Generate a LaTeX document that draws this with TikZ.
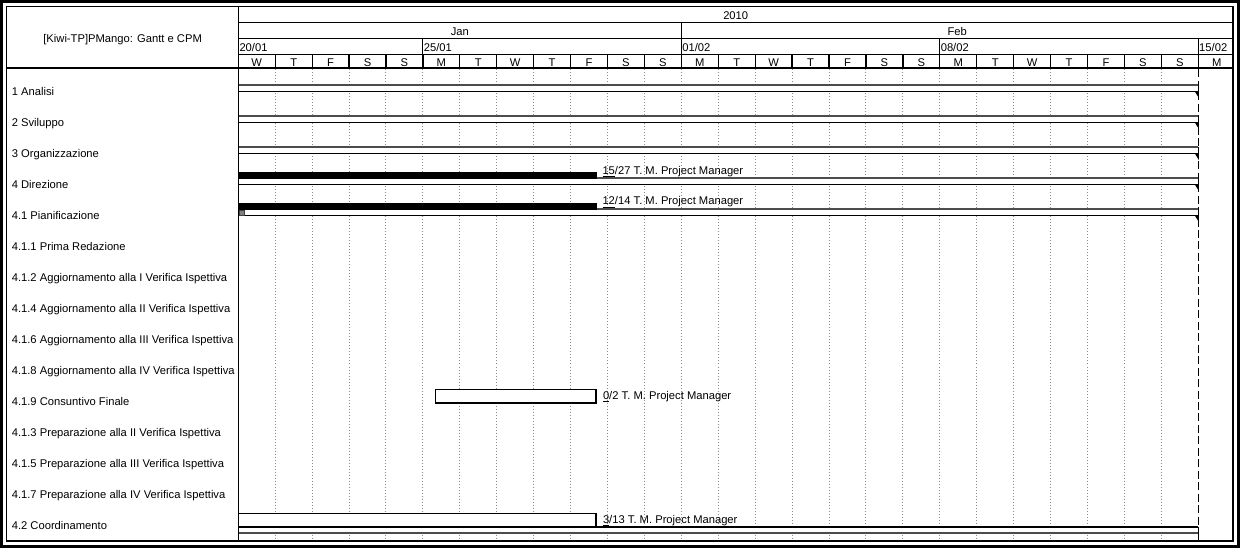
\documentclass[tikz,border=0pt]{standalone}
\usepackage{fontspec}
\setmainfont{Liberation Sans}
\begin{document}
\begin{tikzpicture}[x=0.75pt,y=-0.75pt,
  every node/.style={inner sep=0pt,outer sep=0pt,font=\fontsize{8.4pt}{10pt}\selectfont},
  rowlabel/.style={anchor=base west},
  hdrtext/.style={anchor=base},
  wklabel/.style={anchor=base west},
  barcaption/.style={anchor=base west},
  gridline/.style={draw=black!45,line width=0.75pt,dash pattern=on 0.75pt off 1.5pt},
  thinrule/.style={line width=0.8pt},
  sumtop/.style={draw=black!70,line width=1.5pt},
  sumbot/.style={draw=black,line width=0.8pt},
  taskbar/.style={draw=black,fill=white,line width=0.9pt},
  progress/.style={fill=black},
  endline/.style={draw=black,line width=1.1pt,dash pattern=on 6pt off 2.6pt}]

% canvas
\fill[white] (0,0) rectangle (1241,548);
\useasboundingbox (0,0) rectangle (1241,548);

% day boundaries: x = 238.3 + 36.92 * i
\def\xo{238.3}
\def\dw{36.92}

% dotted day grid in the chart body
\foreach \i in {1,...,25}
  \draw[gridline] ({\xo+\dw*\i},69.5) -- ({\xo+\dw*\i},540.5);

% summary bars (rows 1 .. 4.1)
\foreach \k in {0,...,4}{
  \pgfmathsetmacro\yt{85.5+31*\k}
  \pgfmathsetmacro\yb{\yt+6.3}
  \pgfmathsetmacro\yc{\yb+6.3}
  \fill[white] (\xo,\yt) rectangle (1198.3,\yb);
  \draw[sumtop] (\xo,\yt) -- (1198.3,\yt);
  \draw[sumbot] (\xo,\yb) -- (1198.3,\yb);
  \draw[line width=0.9pt] (1198.3,\yt) -- (1198.3,\yb);
  \fill (1195,\yb) -- (1198.9,\yb) -- (1198.9,\yc) -- cycle;
}

% progress of 4 Direzione and 4.1 Pianificazione
\fill[progress] (\xo,172.3) rectangle (596.5,179);
\fill[progress] (\xo,203.3) rectangle (596.5,209.6);
\draw[fill=black!50,draw=black!75,line width=0.6pt] (239.3,210.3) rectangle (244.7,215.2);

% task bars
\draw[taskbar] (435.7,389.5) rectangle (596,403);
\draw[taskbar] (\xo,513.5) rectangle (596,526.6);
\fill[white] (\xo,527) rectangle (1198.3,532.7);
\draw[sumbot] (\xo,527) -- (1198.3,527);
\draw[sumtop] (\xo,532.7) -- (1198.3,532.7);

% end-of-period line
\draw[endline] (1198.3,69.5) -- (1198.3,527);
\draw[line width=1.1pt] (1198.3,527) -- (1198.3,540.5);

% bar captions
\node[barcaption] (c1) at (602.5,174.5) {\underline{15}/27 T. M. Project Manager};
\node[barcaption] (c2) at (602.5,205) {\underline{12}/14 T. M. Project Manager};
\node[barcaption] (c3) at (603,399.5) {\underline{0}/2 T. M. Project Manager};
\node[barcaption] (c4) at (603,523.5) {\underline{3}/13 T. M. Project Manager};

% header rules
\draw[thinrule] (\xo,22.7) -- (1233,22.7);
\draw[thinrule] (\xo,38.3) -- (1233,38.3);
\draw[thinrule] (\xo,54.3) -- (1233,54.3);
\draw[thinrule] (681.4,22.7) -- (681.4,54.3);
\foreach \w in {5,19,26}
  \draw[thinrule] ({\xo+\dw*\w},38.3) -- ({\xo+\dw*\w},54.3);
\foreach \i in {1,...,26}
  \draw[line width=0.95pt] ({\xo+\dw*\i},54.3) -- ({\xo+\dw*\i},68.3);
\draw[line width=1.5pt] (6.7,68.3) -- (1233,68.3);

% header texts
\node[hdrtext] (title) at (122.6,43) {[Kiwi-TP]PMango: Gantt e CPM};
\node[hdrtext] (yr) at (735.7,20) {2010};
\node[hdrtext] (jan) at (459.9,36) {Jan};
\node[hdrtext] (feb) at (957.2,36) {Feb};
\node[wklabel] (w1) at (239.5,51.5) {20/01};
\node[wklabel] (w2) at ({\xo+\dw*5+1},51.5) {25/01};
\node[wklabel] (w3) at ({\xo+\dw*12+1},51.5) {01/02};
\node[wklabel] (w4) at ({\xo+\dw*19+1},51.5) {08/02};
\node[wklabel] (w5) at ({\xo+\dw*26+1},51.5) {15/02};
\foreach \d [count=\i from 0] in {W,T,F,S,S,M,T,W,T,F,S,S,M,T,W,T,F,S,S,M,T,W,T,F,S,S,M}
  \node[hdrtext] (d\i) at ({\xo+\dw*(\i+0.5)},66.3) {\d};

% task names
\foreach \t [count=\k from 0] in {
  1 Analisi,
  2 Sviluppo,
  3 Organizzazione,
  4 Direzione,
  4.1 Pianificazione,
  4.1.1 Prima Redazione,
  4.1.2 Aggiornamento alla I Verifica Ispettiva,
  4.1.4 Aggiornamento alla II Verifica Ispettiva,
  4.1.6 Aggiornamento alla III Verifica Ispettiva,
  4.1.8 Aggiornamento alla IV Verifica Ispettiva,
  4.1.9 Consuntivo Finale,
  4.1.3 Preparazione alla II Verifica Ispettiva,
  4.1.5 Preparazione alla III Verifica Ispettiva,
  4.1.7 Preparazione alla IV Verifica Ispettiva,
  4.2 Coordinamento}
  \node[rowlabel] (r\k) at (11.8,{95.3+31*\k}) {\t};

% column divider and frames
\draw[line width=1.15pt] (\xo,6.7) -- (\xo,541);
\draw[line width=0.9pt] (6.7,6.7) rectangle (1233,541);
\draw[line width=2pt] (1.3,1.3) rectangle (1238.7,546.7);
\end{tikzpicture}
\end{document}
